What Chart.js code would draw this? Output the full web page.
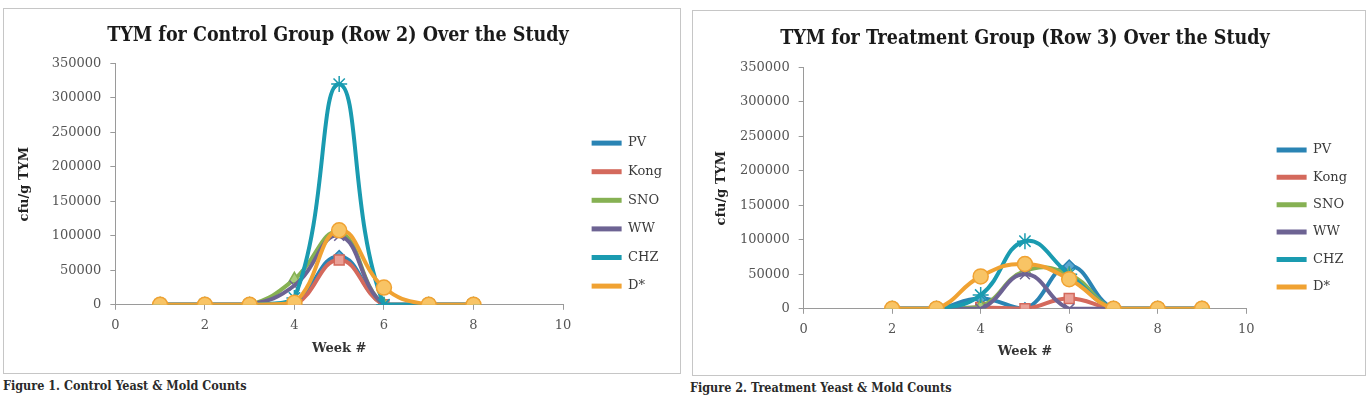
<!DOCTYPE html>
<html>
<head>
<meta charset="utf-8">
<script src="https://cdn.jsdelivr.net/npm/chart.js@4/dist/chart.umd.min.js"></script>
<style>
body { margin: 0; background: #fff; width: 1370px; height: 399px; position: relative; overflow: hidden; }
.caixa { position: absolute; border: 1px solid #c6c6c6; background: #fff; }
.caixa canvas { display: block; }
.legenda { position: absolute; font-family: "DejaVu Serif Condensed", "DejaVu Serif", serif; font-stretch: condensed; font-weight: bold; font-size: 12.5px; color: #2a2a2a; white-space: nowrap; }
</style>
</head>
<body>

<div class="caixa" style="left:3px; top:8px; width:676px; height:364px;"><canvas id="grafico1" width="676" height="364"></canvas></div>
<div class="caixa" style="left:692px; top:10px; width:672px; height:364px;"><canvas id="grafico2" width="672" height="364"></canvas></div>
<div class="legenda" style="left:3px; top:378px;">Figure 1. Control Yeast &amp; Mold Counts</div>
<div class="legenda" style="left:690px; top:380px;">Figure 2. Treatment Yeast &amp; Mold Counts</div>

<script>
// Dados do grupo controle (linha 2)
const semanasControle = [1, 2, 3, 4, 5, 6, 7, 8];
const pvControle   = [0, 0, 0, 5000, 70000, 0, 0, 0];
const kongControle = [0, 0, 0, 0, 65000, 0, 0, 0];
const snoControle  = [0, 0, 0, 37000, 105000, 0, 0, 0];
const wwControle   = [0, 0, 0, 28000, 100000, 0, 0, 0];
const chzControle  = [0, 0, 0, 10000, 320000, 0, 0, 0];
const dControle    = [0, 0, 0, 3000, 108000, 25000, 0, 0];

// Dados do grupo tratamento (linha 3)
const semanasTratamento = [2, 3, 4, 5, 6, 7, 8, 9];
const pvTratamento   = [0, 0, 15000, 0, 62000, 0, 0, 0];
const kongTratamento = [0, 0, 2000, 0, 15000, 0, 0, 0];
const snoTratamento  = [0, 0, 3000, 55000, 50000, 0, 0, 0];
const wwTratamento   = [0, 0, 0, 50000, 0, 0, 0, 0];
const chzTratamento  = [0, 0, 20000, 98000, 50000, 0, 0, 0];
const dTratamento    = [0, 0, 47000, 65000, 43000, 0, 0, 0];

const nomesSeries = ["PV", "Kong", "SNO", "WW", "CHZ", "D*"];
const ticksX = [0, 2, 4, 6, 8, 10];
const ticksY = [0, 50000, 100000, 150000, 200000, 250000, 300000, 350000];

// Estilos de cada serie
const estilos = [
    { cor: "#2a84b4", fundo: "#5aa6d0", ponto: "rectRot", raio: 6 },
    { cor: "#d4695c", fundo: "#eaa097", ponto: "rect", raio: 7 },
    { cor: "#86b153", fundo: "#a9cc7c", ponto: "triangle", raio: 7 },
    { cor: "#6d6393", fundo: "#6d6393", ponto: "crossRot", raio: 7 },
    { cor: "#1a9bb0", fundo: "#1a9bb0", ponto: "star", raio: 8 },
    { cor: "#f0a232", fundo: "#f8c465", ponto: "circle", raio: 7.5 }
];

const FONTE = "'DejaVu Serif', serif";
const FONTE_TITULO = "'DejaVu Serif Condensed', 'DejaVu Serif', serif";

function montarSeries(semanas, listas) {
    return listas.map((valores, i) => {
        const e = estilos[i];
        return {
            label: nomesSeries[i],
            data: semanas.map((s, j) => ({ x: s, y: valores[j] })),
            borderColor: e.cor,
            backgroundColor: e.fundo,
            pointBackgroundColor: e.fundo,
            pointBorderColor: e.cor,
            pointBorderWidth: 1.5,
            pointStyle: e.ponto,
            pointRadius: e.raio,
            borderWidth: 4,
            tension: 0.45,
            order: listas.length - i
        };
    });
}

// cfg: ajustes de posicao de cada grafico
function montarGrafico(id, titulo, semanas, listas, cfg) {
    const ctx = document.getElementById(id).getContext("2d");
    return new Chart(ctx, {
        type: "line",
        data: { datasets: montarSeries(semanas, listas) },
        options: {
            responsive: false,
            animation: false,
            devicePixelRatio: 1,
            layout: { padding: { left: 0, right: cfg.direita, top: 0, bottom: cfg.baixo } },
            plugins: {
                title: {
                    display: true,
                    text: titulo,
                    color: "#1a1a1a",
                    font: { family: FONTE_TITULO, size: 19.5, weight: "bold" },
                    padding: { top: cfg.tituloTopo, bottom: cfg.tituloBaixo }
                },
                legend: {
                    position: "right",
                    align: "start",
                    title: { display: true, text: " ", font: { size: 10 }, padding: { top: cfg.legendaTopo, bottom: 0 } },
                    labels: {
                        boxWidth: 30,
                        boxHeight: 5,
                        padding: cfg.legendaPasso,
                        color: "#3a3a3a",
                        font: { family: FONTE, size: 13 },
                        sort: (a, b) => a.datasetIndex - b.datasetIndex,
                        generateLabels: (chart) => {
                            const itens = Chart.defaults.plugins.legend.labels.generateLabels(chart);
                            itens.forEach(it => {
                                it.fillStyle = estilos[it.datasetIndex].cor;
                                it.lineWidth = 0;
                            });
                            return itens;
                        }
                    }
                },
                tooltip: { enabled: false }
            },
            scales: {
                x: {
                    type: "linear",
                    min: 0,
                    max: 10,
                    afterBuildTicks: (s) => { s.ticks = ticksX.map(v => ({ value: v })); },
                    ticks: { color: "#555", font: { family: FONTE, size: 13 }, padding: 8 },
                    grid: { drawOnChartArea: false, tickLength: 5, color: "#9a9a9a" },
                    border: { color: "#9a9a9a" },
                    title: {
                        display: true,
                        text: "Week #",
                        color: "#333",
                        font: { family: FONTE, size: 13, weight: "bold" },
                        padding: { top: cfg.semanaTopo, bottom: 0 }
                    }
                },
                y: {
                    min: 0,
                    max: 350000,
                    afterBuildTicks: (s) => { s.ticks = ticksY.map(v => ({ value: v })); },
                    ticks: { color: "#555", font: { family: FONTE, size: 13 }, padding: 9, callback: v => String(v) },
                    grid: { drawOnChartArea: false, tickLength: 5, color: "#9a9a9a" },
                    border: { color: "#9a9a9a" },
                    title: {
                        display: true,
                        text: "cfu/g TYM",
                        color: "#222",
                        font: { family: FONTE, size: 13, weight: "bold" },
                        padding: { top: cfg.eixoYTopo, bottom: cfg.eixoYBaixo }
                    }
                },
                folga: {
                    position: "right",
                    display: true,
                    ticks: { display: false },
                    grid: { display: false },
                    border: { display: false },
                    afterFit: (s) => { s.width = cfg.folga; }
                }
            }
        }
    });
}

document.addEventListener("DOMContentLoaded", () => {
    montarGrafico("grafico1", "TYM for Control Group (Row 2) Over the Study", semanasControle,
        [pvControle, kongControle, snoControle, wwControle, chzControle, dControle],
        { direita: 8, baixo: 17, tituloTopo: 15, tituloBaixo: 16, legendaTopo: 100, legendaPasso: 15.6,
          semanaTopo: -1, eixoYTopo: 13, eixoYBaixo: 13, folga: 13 });
    montarGrafico("grafico2", "TYM for Treatment Group (Row 3) Over the Study", semanasTratamento,
        [pvTratamento, kongTratamento, snoTratamento, wwTratamento, chzTratamento, dTratamento],
        { direita: 8, baixo: 16, tituloTopo: 16, tituloBaixo: 17, legendaTopo: 106, legendaPasso: 14.4,
          semanaTopo: -2, eixoYTopo: 21, eixoYBaixo: 2, folga: 16 });
});
</script>
</body>
</html>
